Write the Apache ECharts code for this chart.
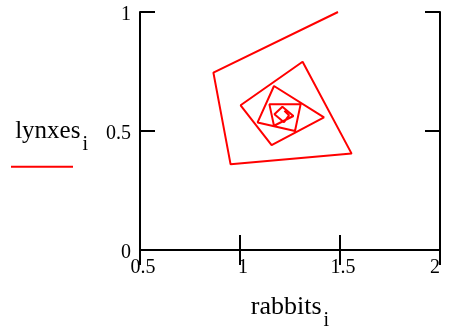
<!DOCTYPE html>
<html>
<head>
<meta charset="utf-8">
<script src="https://cdn.jsdelivr.net/npm/echarts@6/dist/echarts.min.js"></script>
<style>
  html, body { margin: 0; padding: 0; background: #fff; }
  #chart { width: 451px; height: 329px; }
</style>
</head>
<body>
<div id="chart"></div>
<script>
// Predator–prey phase trajectory: lynx population against rabbit population
const rabbits = [1.49, 0.867, 0.953, 1.558, 1.313, 1.003, 1.158, 1.42, 1.17, 1.088,
                 1.275, 1.303, 1.147, 1.17, 1.267, 1.212, 1.172, 1.22, 1.245, 1.222];
const lynxes  = [1.0, 0.745, 0.360, 0.405, 0.791, 0.608, 0.441, 0.557, 0.689, 0.536,
                 0.5, 0.612, 0.612, 0.522, 0.563, 0.602, 0.57, 0.537, 0.566, 0.585];
const xTicks = { min: 0.5, max: 2, step: 0.5 };
const yTicks = { min: 0, max: 1, step: 0.5 };

const serif = 'Liberation Serif';
const ink = '#000';
const frameLine = { show: true, lineStyle: { color: ink, width: 2 } };
const innerTick = { show: true, inside: true, length: 15, lineStyle: { color: ink, width: 2 } };

const chart = echarts.init(document.getElementById('chart'));
chart.setOption({
  animation: false,
  backgroundColor: '#fff',
  grid: { left: 140, top: 12, width: 300, height: 238, containLabel: false, outerBoundsMode: 'none' },
  legend: {
    left: 11, top: 165.7, padding: 0,
    icon: 'rect', itemWidth: 62, itemHeight: 2,
    formatter: () => '',
    textStyle: { fontSize: 1 },
    data: ['lynxes']
  },
  xAxis: [
    {
      type: 'value', position: 'bottom',
      min: xTicks.min, max: xTicks.max, interval: xTicks.step,
      axisLine: frameLine, axisTick: innerTick, splitLine: { show: false },
      axisLabel: {
        fontFamily: serif, fontSize: 20, color: ink, margin: 8,
        padding: [0, 0, 0, 6],
        alignMaxLabel: 'right',
        formatter: v => String(v)
      },
      name: '{a|rabbits}{s|i}',
      nameLocation: 'middle', nameGap: 44,
      nameTextStyle: {
        rich: {
          a: { fontFamily: serif, fontSize: 26, color: ink, lineHeight: 26, verticalAlign: 'top' },
          s: { fontFamily: serif, fontSize: 20, color: ink, lineHeight: 20, padding: [17, 0, 0, 2], verticalAlign: 'top' }
        }
      }
    },
    {
      type: 'value', position: 'top',
      min: xTicks.min, max: xTicks.max, interval: xTicks.step,
      axisLine: frameLine, axisTick: innerTick, splitLine: { show: false },
      axisLabel: { show: false }
    }
  ],
  yAxis: [
    {
      type: 'value', position: 'left',
      min: yTicks.min, max: yTicks.max, interval: yTicks.step,
      axisLine: frameLine, axisTick: innerTick, splitLine: { show: false },
      axisLabel: {
        margin: 9,
        formatter: v => '{v|' + v + '}',
        rich: {
          v: { fontFamily: serif, fontSize: 20, color: ink, lineHeight: 20, padding: [5, 0, 0, 0] }
        }
      },
      name: '{a|lynxes}{s|i}',
      nameLocation: 'middle', nameRotate: 0, nameGap: 52,
      nameTextStyle: {
        rich: {
          a: { fontFamily: serif, fontSize: 25, color: ink, lineHeight: 25, verticalAlign: 'top' },
          s: { fontFamily: serif, fontSize: 20, color: ink, lineHeight: 20, padding: [16, 0, 0, 2], verticalAlign: 'top' }
        }
      }
    },
    {
      type: 'value', position: 'right',
      min: yTicks.min, max: yTicks.max, interval: yTicks.step,
      axisLine: frameLine, axisTick: innerTick, splitLine: { show: false },
      axisLabel: { show: false }
    }
  ],
  series: [
    {
      name: 'lynxes',
      type: 'line',
      xAxisIndex: 0, yAxisIndex: 0,
      data: rabbits.map((r, i) => [r, lynxes[i]]),
      showSymbol: false, symbol: 'none',
      lineStyle: { color: '#ff0000', width: 2 },
      itemStyle: { color: '#ff0000' },
      clip: false
    }
  ]
});
</script>
</body>
</html>
